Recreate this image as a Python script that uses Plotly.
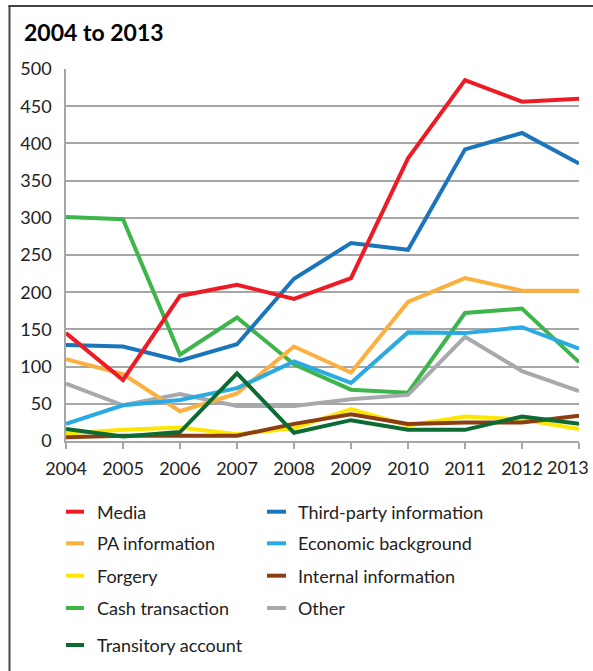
import plotly.graph_objects as go

years = [2004, 2005, 2006, 2007, 2008, 2009, 2010, 2011, 2012, 2013]
year_labels = ["2004", "2005", "2006", "2007", "2008", "2009", "2010", "2011", "2012", "2013"]

series_names = [
    "Media", "Third-party information", "PA information", "Economic background",
    "Forgery", "Internal information", "Cash transaction", "Other", "Transitory account",
]

media = [145, 82, 195, 210, 191, 219, 380, 485, 456, 460]
third_party = [129, 127, 108, 130, 218, 266, 257, 392, 414, 373]
pa_information = [110, 90, 40, 64, 127, 92, 187, 219, 202, 202]
economic_background = [23, 48, 55, 71, 107, 78, 146, 145, 153, 124]
forgery = [10, 15, 18, 9, 17, 43, 21, 33, 29, 16]
internal_information = [5, 7, 7, 7, 23, 36, 23, 25, 25, 34]
cash_transaction = [301, 298, 116, 166, 103, 69, 65, 172, 178, 106]
other = [77, 48, 63, 47, 47, 56, 62, 140, 94, 67]
transitory_account = [16, 6, 12, 91, 11, 28, 15, 15, 33, 23]

values = [media, third_party, pa_information, economic_background, forgery,
          internal_information, cash_transaction, other, transitory_account]

colors = ["#ED1C24", "#1B75BC", "#FBB040", "#29AAE2", "#FFE600",
          "#8B3E13", "#3DB54A", "#A7A9AC", "#0B6B33"]

W, H = 593, 671
L, R, T, B = 66, 14, 69, 230
PW, PH = W - L - R, H - T - B

def px_x(px):
    return (px - L) / PW

def px_y(py):
    return (H - B - py) / PH

FONT = "Lato"

fig = go.Figure()
draw_order = [6, 7, 2, 3, 4, 5, 8, 1, 0]
for i in draw_order:
    fig.add_trace(go.Scatter(
        x=years, y=values[i], name=series_names[i], mode="lines",
        line=dict(color=colors[i], width=4), showlegend=False,
    ))

# the last year label is drawn right-aligned to stay inside the page, as in the original
ticktext = year_labels[:-1] + [""]

fig.update_layout(
    width=W, height=H,
    margin=dict(l=L, r=R, t=T, b=B, autoexpand=False),
    paper_bgcolor="white", plot_bgcolor="white",
    font=dict(family=FONT, size=18, color="#222"),
    showlegend=False,
)
fig.update_xaxes(
    range=[2004, 2013], tickmode="array", tickvals=years, ticktext=ticktext,
    showgrid=False, showline=True, linecolor="#A6A6A6", linewidth=1.5,
    ticks="outside", ticklen=6, tickcolor="#A6A6A6", tickwidth=1.5,
    ticklabelstandoff=5, zeroline=False, automargin=False,
)
fig.update_yaxes(
    range=[0, 500], tickmode="linear", tick0=0, dtick=50,
    showgrid=True, gridcolor="#A6A6A6", gridwidth=1.5,
    showline=True, linecolor="#A6A6A6", linewidth=1.5,
    ticks="", ticklabelstandoff=9, zeroline=False, automargin=False,
)

fig.add_annotation(
    x=years[-1], xref="x", y=px_y(467), yref="paper",
    text=year_labels[-1], showarrow=False, xanchor="right", yanchor="middle",
    xshift=12, font=dict(family=FONT, size=18, color="#222"),
)

# Title
fig.add_annotation(
    x=px_x(22), y=px_y(32), xref="paper", yref="paper",
    text="<b>2004 to 2013</b>", showarrow=False,
    xanchor="left", yanchor="middle",
    font=dict(family=FONT, size=23, color="#000"),
)

# Frame (left and top edges)
fig.add_shape(type="line", xref="paper", yref="paper",
              x0=px_x(9.5), x1=px_x(9.5), y0=px_y(5), y1=px_y(680),
              line=dict(color="#444", width=2))
fig.add_shape(type="line", xref="paper", yref="paper",
              x0=px_x(8.5), x1=px_x(600), y0=px_y(6), y1=px_y(6),
              line=dict(color="#444", width=2))

# Legend (two columns)
col_sym = [(66, 84), (267, 286)]
col_txt = [95, 296]
row_y = [511.7, 543.3, 575.7, 608, 645]
for i, name in enumerate(series_names):
    r, c = divmod(i, 2)
    y = row_y[r]
    fig.add_shape(type="line", xref="paper", yref="paper",
                  x0=px_x(col_sym[c][0]), x1=px_x(col_sym[c][1]),
                  y0=px_y(y), y1=px_y(y),
                  line=dict(color=colors[i], width=4))
    fig.add_annotation(x=px_x(col_txt[c]), y=px_y(y), xref="paper", yref="paper",
                       text=name, showarrow=False, xanchor="left", yanchor="middle",
                       font=dict(family=FONT, size=18, color="#222"))

fig.write_html(
    "out.html",
    config={"displayModeBar": False},
    post_script="document.body.style.margin='0';document.body.style.overflow='hidden';",
)
